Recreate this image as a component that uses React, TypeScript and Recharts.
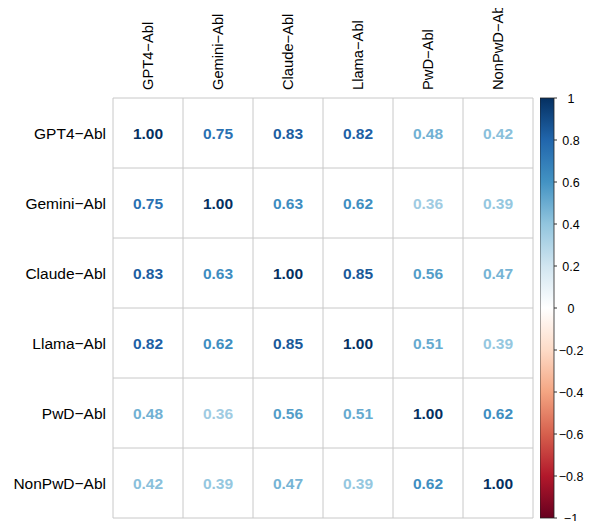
import React from "react"
import {
  ScatterChart,
  Scatter,
  BarChart,
  Bar,
  XAxis,
  YAxis,
  CartesianGrid,
} from "recharts"

// variable names, same order for rows and columns
const variables = ["GPT4−Abl", "Gemini−Abl", "Claude−Abl", "Llama−Abl", "PwD−Abl", "NonPwD−Abl"]

// correlation matrix, one row per variable
const corrRows: number[][] = [
  [1.0, 0.75, 0.83, 0.82, 0.48, 0.42],
  [0.75, 1.0, 0.63, 0.62, 0.36, 0.39],
  [0.83, 0.63, 1.0, 0.85, 0.56, 0.47],
  [0.82, 0.62, 0.85, 1.0, 0.51, 0.39],
  [0.48, 0.36, 0.56, 0.51, 1.0, 0.62],
  [0.42, 0.39, 0.47, 0.39, 0.62, 1.0],
]

const legendTicks = [1, 0.8, 0.6, 0.4, 0.2, 0, -0.2, -0.4, -0.6, -0.8, -1]
const legendRange = [{ name: "corr", range: [-1, 1] }]

// RdBu palette, from -1 to 1
const palette = [
  "#67001F", "#B2182B", "#D6604D", "#F4A582", "#FDDBC7", "#FFFFFF",
  "#D1E5F0", "#92C5DE", "#4393C3", "#2166AC", "#053061",
]

const FONT = "'Liberation Sans', Arial, Helvetica, sans-serif"

function hexToRgb(h: string) {
  const n = parseInt(h.slice(1), 16)
  return [(n >> 16) & 255, (n >> 8) & 255, n & 255]
}

function colorFor(v: number) {
  const t = ((v + 1) / 2) * (palette.length - 1)
  const i = Math.min(Math.floor(t), palette.length - 2)
  const f = t - i
  const a = hexToRgb(palette[i])
  const b = hexToRgb(palette[i + 1])
  const c = a.map((x, k) => Math.round(x + (b[k] - x) * f))
  return `rgb(${c[0]},${c[1]},${c[2]})`
}

const cells = corrRows.flatMap((row, r) =>
  row.map((value, c) => ({ x: c + 0.5, y: r + 0.5, value }))
)

const centers = variables.map((_, i) => i + 0.5)
const edges = [0, 1, 2, 3, 4, 5, 6]
const N = variables.length

const labelFor = (v: number) => variables[Math.round(v - 0.5)] ?? ""

// grid lines on the cell edges, taken from the axis scale
const vGrid = ({ xAxis, offset }: any) =>
  edges.map((e) =>
    xAxis && typeof xAxis.scale === "function" ? xAxis.scale(e) : offset.left + (e / N) * offset.width
  )
const hGrid = ({ yAxis, offset }: any) =>
  edges.map((e) =>
    yAxis && typeof yAxis.scale === "function" ? yAxis.scale(e) : offset.top + (e / N) * offset.height
  )

const ColTick = (props: any) => {
  const { x, y, payload } = props
  return (
    <text
      x={x}
      y={y}
      transform={`rotate(-90, ${x}, ${y})`}
      textAnchor="start"
      dy="0.36em"
      fontFamily={FONT}
      fontSize={14.7}
      fill="#000"
    >
      {labelFor(payload.value)}
    </text>
  )
}

const RowTick = (props: any) => {
  const { x, y, payload } = props
  return (
    <text x={x} y={y} textAnchor="end" dy="0.36em" fontFamily={FONT} fontSize={15.5} fill="#000">
      {labelFor(payload.value)}
    </text>
  )
}

const LegendTick = (props: any) => {
  const { x, y, payload } = props
  const v = payload.value as number
  const txt = v === 0 ? "0" : v < 0 ? "−" + String(Math.abs(v)) : String(v)
  return (
    <g>
      <line x1={x} x2={x + 3} y1={y} y2={y} stroke="#333" strokeWidth={1} />
      <text x={x + 17} y={y} textAnchor="middle" dy="0.36em" fontFamily={FONT} fontSize={12.5} fill="#000">
        {txt}
      </text>
    </g>
  )
}

const CellText = (props: any) => {
  const { cx, cy, payload } = props
  return (
    <text
      x={cx}
      y={cy}
      textAnchor="middle"
      dy="0.36em"
      fontFamily={FONT}
      fontSize={15.5}
      fontWeight="bold"
      fill={colorFor(payload.value)}
    >
      {payload.value.toFixed(2)}
    </text>
  )
}

export default function App() {
  return (
    <div style={{ margin: -8, width: 605, height: 529, background: "#fff", position: "relative" }}>
      <ScatterChart width={540} height={529} margin={{ top: 0, right: 7, bottom: 11, left: 0 }}>
        <XAxis
          xAxisId="lab"
          orientation="top"
          type="number"
          dataKey="x"
          domain={[0, 6]}
          ticks={centers}
          height={98}
          axisLine={false}
          tickLine={false}
          tickSize={0}
          tickMargin={8}
          tick={<ColTick />}
          interval={0}
        />
        <YAxis
          yAxisId="lab"
          type="number"
          dataKey="y"
          domain={[0, 6]}
          ticks={centers}
          reversed
          width={113}
          axisLine={false}
          tickLine={false}
          tickSize={0}
          tickMargin={7}
          tick={<RowTick />}
          interval={0}
        />
        <CartesianGrid
          xAxisId="lab"
          yAxisId="lab"
          stroke="#c8c8c8"
          strokeWidth={1}
          verticalCoordinatesGenerator={vGrid}
          horizontalCoordinatesGenerator={hGrid}
        />
        <Scatter
          data={cells}
          xAxisId="lab"
          yAxisId="lab"
          shape={<CellText />}
          isAnimationActive={false}
        />
      </ScatterChart>

      {/* colour legend */}
      <div style={{ position: "absolute", left: 540, top: 0 }}>
        <BarChart
          width={65}
          height={529}
          data={legendRange}
          margin={{ top: 98, right: 0, bottom: 11, left: 0 }}
          barCategoryGap={0}
        >
          <defs>
            <linearGradient id="cbGrad" x1="0" y1="0" x2="0" y2="1">
              {palette
                .slice()
                .reverse()
                .map((c, i) => (
                  <stop key={i} offset={`${(i / (palette.length - 1)) * 100}%`} stopColor={c} />
                ))}
            </linearGradient>
          </defs>
          <XAxis dataKey="name" hide />
          <YAxis
            orientation="right"
            type="number"
            domain={[-1, 1]}
            ticks={legendTicks}
            width={51}
            axisLine={false}
            tickLine={false}
            tickSize={0}
            tickMargin={0}
            tick={<LegendTick />}
            interval={0}
          />
          <Bar
            dataKey="range"
            fill="url(#cbGrad)"
            stroke="#222"
            strokeWidth={0.8}
            isAnimationActive={false}
          />
        </BarChart>
      </div>
    </div>
  )
}
